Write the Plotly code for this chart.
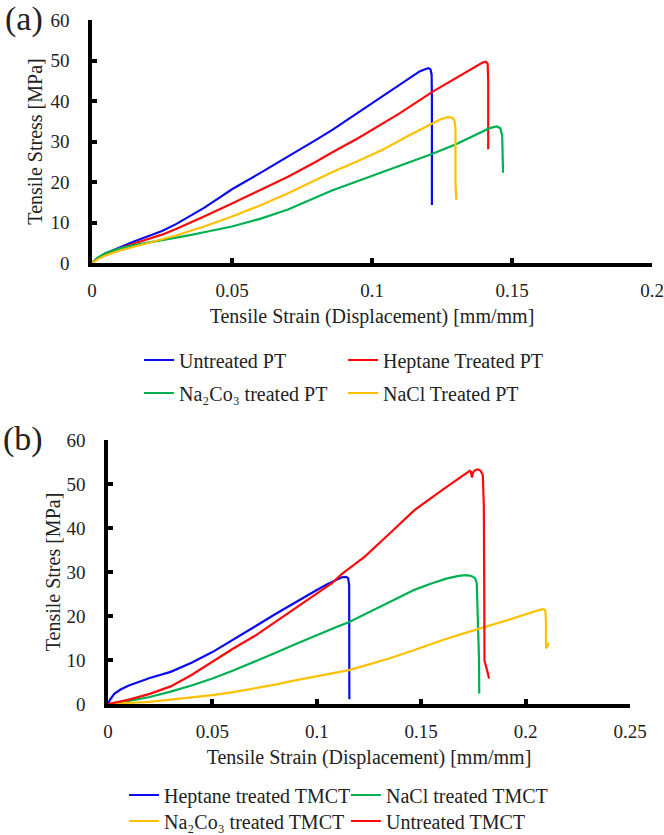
import plotly.graph_objects as go

# ---------------- Panel (a) data ----------------
a_untreated_x = [0, 0.002, 0.005, 0.01, 0.015, 0.02, 0.025, 0.03, 0.035, 0.04, 0.045, 0.05, 0.06, 0.07, 0.08, 0.0857, 0.09, 0.095, 0.1, 0.1036, 0.1095, 0.114, 0.117, 0.1192, 0.1202, 0.1209, 0.1213, 0.1214, 0.1214]
a_untreated_y = [0, 1.2, 2.4, 3.9, 5.3, 6.6, 7.9, 9.6, 11.5, 13.6, 15.9, 18.2, 22.2, 26.2, 30.4, 32.8, 34.8, 37.1, 39.4, 41.1, 44.0, 46.1, 47.3, 47.9, 48.1, 47.8, 46.5, 40, 14.3]

a_heptane_x = [0, 0.002, 0.005, 0.01, 0.015, 0.02, 0.025, 0.03, 0.035, 0.04, 0.05, 0.06, 0.07, 0.08, 0.0857, 0.095, 0.1036, 0.11, 0.1214, 0.1333, 0.137, 0.1395, 0.1407, 0.1413, 0.1415, 0.1415]
a_heptane_y = [0, 1.1, 2.2, 3.6, 4.8, 5.9, 7.0, 8.4, 9.9, 11.5, 14.7, 18.0, 21.3, 25.0, 27.3, 30.8, 34.3, 37.0, 42.2, 47.0, 48.5, 49.5, 49.7, 49.2, 45, 28.1]

a_na2co3_x = [0, 0.002, 0.005, 0.01, 0.015, 0.02, 0.025, 0.03, 0.035, 0.04, 0.05, 0.06, 0.07, 0.0857, 0.095, 0.1036, 0.1214, 0.13, 0.1393, 0.142, 0.1445, 0.1458, 0.1465, 0.1467, 0.1468]
a_na2co3_y = [0, 1.3, 2.5, 3.6, 4.4, 5.0, 5.6, 6.2, 6.9, 7.6, 9.0, 10.9, 13.2, 17.9, 20.2, 22.3, 26.9, 29.3, 32.4, 33.3, 33.7, 33.3, 31.5, 27, 22.3]

a_nacl_x = [0, 0.002, 0.005, 0.01, 0.015, 0.02, 0.025, 0.03, 0.035, 0.04, 0.05, 0.06, 0.07, 0.0857, 0.095, 0.1036, 0.113, 0.1214, 0.1245, 0.127, 0.1285, 0.1294, 0.1298, 0.1298, 0.1301]
a_nacl_y = [0, 0.9, 1.9, 3.1, 4.0, 4.9, 5.8, 6.8, 7.9, 9.0, 11.5, 14.2, 17.2, 22.4, 25.2, 27.9, 31.4, 34.5, 35.5, 36.0, 35.9, 35.3, 33.5, 20, 15.6]

# ---------------- Panel (b) data ----------------
b_heptane_x = [0, 0.001, 0.003, 0.006, 0.01, 0.02, 0.03, 0.04, 0.05, 0.06, 0.07, 0.08, 0.09, 0.1, 0.105, 0.109, 0.112, 0.114, 0.115, 0.1155, 0.1156, 0.1156]
b_heptane_y = [0, 1.0, 2.3, 3.3, 4.2, 5.9, 7.3, 9.4, 11.8, 14.6, 17.5, 20.4, 23.2, 25.9, 27.2, 28.2, 28.8, 28.9, 28.6, 27, 15, 1.1]

b_nacl_x = [0, 0.01, 0.02, 0.03, 0.04, 0.05, 0.06, 0.0704, 0.08, 0.0908, 0.1, 0.11, 0.1153, 0.123, 0.131, 0.139, 0.147, 0.1549, 0.162, 0.168, 0.1716, 0.174, 0.1758, 0.1766, 0.1768, 0.1772, 0.1775, 0.1777, 0.1778]
b_nacl_y = [0, 0.7, 1.6, 2.8, 4.2, 5.8, 7.6, 9.6, 11.6, 13.8, 15.7, 17.6, 18.6, 20.4, 22.4, 24.3, 26.0, 27.4, 28.5, 29.1, 29.3, 29.1, 28.6, 27.5, 24, 17, 15, 10, 2.4]

b_na2co3_x = [0, 0.01, 0.02, 0.03, 0.04, 0.05, 0.06, 0.07, 0.08, 0.0908, 0.1, 0.1154, 0.125, 0.135, 0.145, 0.152, 0.16, 0.17, 0.1786, 0.186, 0.193, 0.2, 0.205, 0.2075, 0.2088, 0.2095, 0.2097, 0.2098, 0.2104, 0.211]
b_na2co3_y = [0, 0.2, 0.5, 1.0, 1.5, 2.0, 2.7, 3.5, 4.4, 5.5, 6.3, 7.7, 9.0, 10.4, 12.0, 13.2, 14.5, 16.0, 17.2, 18.2, 19.3, 20.4, 21.2, 21.5, 21.5, 21.2, 19, 12.7, 13.0, 13.9]

b_untreated_x = [0, 0.01, 0.02, 0.03, 0.04, 0.05, 0.06, 0.0704, 0.0759, 0.09, 0.1071, 0.1119, 0.123, 0.135, 0.1469, 0.16, 0.168, 0.1732, 0.1738, 0.1743, 0.1748, 0.176, 0.1772, 0.1785, 0.1795, 0.18, 0.1802, 0.1803, 0.1808, 0.1812, 0.1818, 0.1825]
b_untreated_y = [0, 1.0, 2.3, 4.0, 6.6, 9.6, 12.6, 15.5, 17.3, 21.8, 27.4, 29.5, 33.5, 38.8, 44.1, 48.6, 51.3, 53.0, 52.8, 51.5, 52.6, 53.2, 53.3, 53.0, 52, 45, 25, 9.8, 9.0, 8.0, 7.2, 5.8]

# ---------------- Tick labels ----------------
a_xtick_vals = [0, 0.05, 0.1, 0.15, 0.2]
a_xtick_text = ["0", "0.05", "0.1", "0.15", "0.2"]
b_xtick_vals = [0, 0.05, 0.1, 0.15, 0.2, 0.25]
b_xtick_text = ["0", "0.05", "0.1", "0.15", "0.2", "0.25"]
ytick_vals = [0, 10, 20, 30, 40, 50, 60]
ytick_text = ["0", "10", "20", "30", "40", "50", "60"]

BLUE = "#0a0af0"
RED = "#ff0a0a"
GREEN = "#00b050"
YELLOW = "#ffc000"
FONT = "Liberation Serif"
W, H = 664, 835

def px(v):
    return v / W

def py(v):
    return 1 - v / H

fig = go.Figure()

def add(x, y, name, color, xa, ya, leg):
    fig.add_trace(go.Scatter(x=x, y=y, name=name, mode="lines",
                             line=dict(color=color, width=2.2),
                             xaxis=xa, yaxis=ya, legend=leg))

add(a_untreated_x, a_untreated_y, "Untreated PT", BLUE, "x", "y", "legend")
add(a_heptane_x, a_heptane_y, "Heptane Treated PT", RED, "x", "y", "legend2")
add(a_na2co3_x, a_na2co3_y, "Na₂Co₃ treated PT", GREEN, "x", "y", "legend3")
add(a_nacl_x, a_nacl_y, "NaCl Treated PT", YELLOW, "x", "y", "legend4")

add(b_heptane_x, b_heptane_y, "Heptane treated TMCT", BLUE, "x2", "y2", "legend5")
add(b_nacl_x, b_nacl_y, "NaCl treated TMCT", GREEN, "x2", "y2", "legend6")
add(b_na2co3_x, b_na2co3_y, "Na₂Co₃ treated TMCT", YELLOW, "x2", "y2", "legend7")
add(b_untreated_x, b_untreated_y, "Untreated TMCT", RED, "x2", "y2", "legend8")

tickfont = dict(family=FONT, size=19, color="#222")
titlefont = dict(family=FONT, size=20, color="#222")

def xaxis(domain, rng, vals, text, anchor):
    return dict(domain=domain, range=rng, tickvals=vals, ticktext=text, anchor=anchor,
                showline=True, linecolor="black", linewidth=3.5, showgrid=False, zeroline=False,
                ticks="inside", ticklen=5, tickwidth=3.5, tickcolor="black",
                tickfont=tickfont, ticklabelstandoff=7, automargin=False,
                title=dict(text="Tensile Strain (Displacement) [mm/mm]", font=titlefont, standoff=10))

def yaxis(domain, title, anchor, standoff):
    return dict(domain=domain, range=[0, 60], tickvals=ytick_vals, ticktext=ytick_text, anchor=anchor,
                showline=True, linecolor="black", linewidth=3.5, showgrid=False, zeroline=False,
                ticks="inside", ticklen=5, tickwidth=3.5, tickcolor="black",
                tickfont=tickfont, ticklabelstandoff=15, automargin=False,
                title=dict(text=title, font=titlefont, standoff=standoff))

def leg(x_line, y_row):
    return dict(orientation="v", xanchor="left", yanchor="middle",
                x=px(x_line - 4), y=py(y_row),
                font=dict(family=FONT, size=20, color="#222"),
                bgcolor="rgba(0,0,0,0)", itemwidth=30, borderwidth=0)

fig.update_layout(
    width=W, height=H, margin=dict(l=0, r=0, t=0, b=0, autoexpand=False),
    paper_bgcolor="white", plot_bgcolor="white",
    xaxis=xaxis([px(92), px(652)], [0, 0.2], a_xtick_vals, a_xtick_text, "y"),
    yaxis=yaxis([py(263), py(20)], "Tensile Stress [MPa]", "x", 3),
    xaxis2=xaxis([px(108), px(630)], [0, 0.25], b_xtick_vals, b_xtick_text, "y2"),
    yaxis2=yaxis([py(704), py(440)], "Tensile Stres [MPa]", "x2", 1),
    legend=leg(143, 360), legend2=leg(347, 360),
    legend3=leg(143, 393), legend4=leg(347, 393),
    legend5=leg(128, 795), legend6=leg(350, 795),
    legend7=leg(128, 821), legend8=leg(350, 821),
    showlegend=True,
    annotations=[
        dict(text="(a)", x=px(24), y=py(19), xref="paper", yref="paper", showarrow=False,
             font=dict(family=FONT, size=34, color="#222"), xanchor="center", yanchor="middle"),
        dict(text="(b)", x=px(23), y=py(439), xref="paper", yref="paper", showarrow=False,
             font=dict(family=FONT, size=34, color="#222"), xanchor="center", yanchor="middle"),
    ],
)

fig.write_html("out.html", config={"displayModeBar": False},
               post_script="document.body.style.margin='0';")
